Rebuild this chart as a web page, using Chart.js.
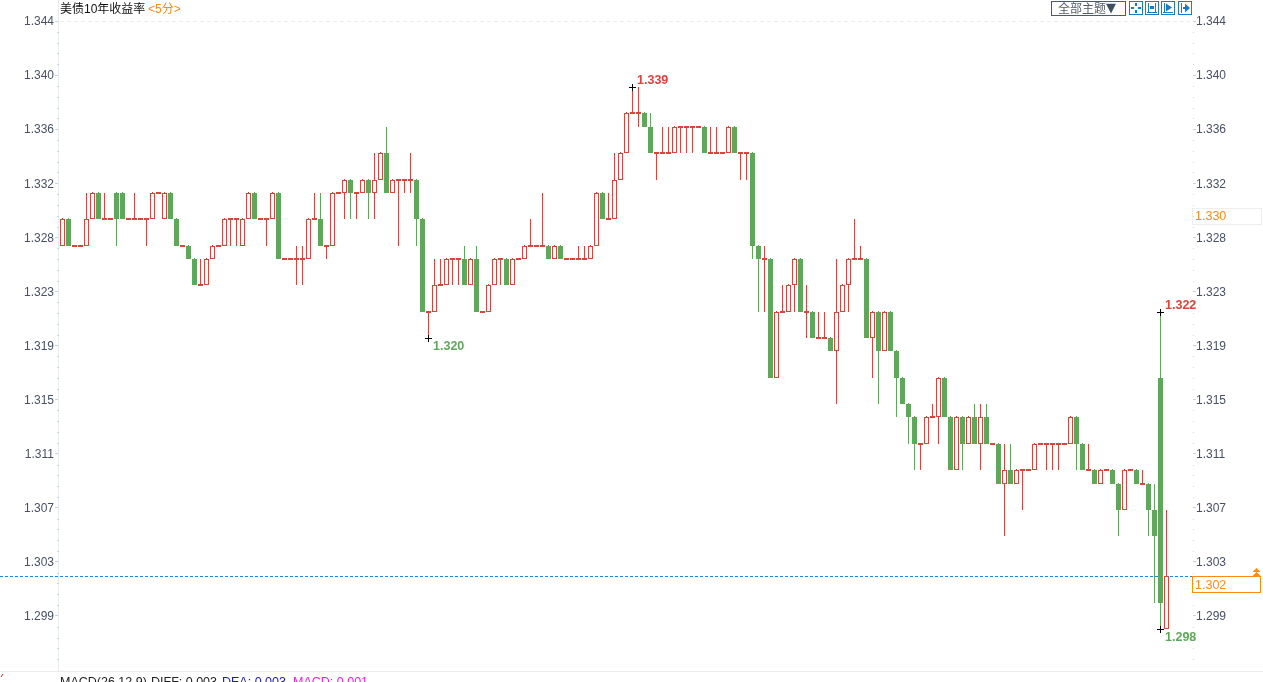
<!DOCTYPE html>
<html lang="zh">
<head>
<meta charset="utf-8">
<title>美债10年收益率</title>
<script src="https://cdn.jsdelivr.net/npm/chart.js@4/dist/chart.umd.js"></script>
<style>html,body{margin:0;padding:0;background:#fff;overflow:hidden}canvas{display:block}</style>
</head>
<body>
<canvas id="c" width="1263" height="682"></canvas>
<script>
const opens = [
1.327,1.329,1.327,1.327,1.327,1.329,1.331,1.329,1.329,1.331,1.331,1.329,1.329,1.329,1.329,1.329,1.331,1.329,1.331,1.329,
1.327,1.327,1.326,1.324,1.324,1.326,1.327,1.327,1.329,1.329,1.327,1.329,1.331,1.329,1.329,1.329,1.331,1.326,1.326,1.326,
1.326,1.326,1.329,1.329,1.327,1.327,1.331,1.331,1.332,1.331,1.331,1.332,1.331,1.332,1.334,1.331,1.332,1.332,1.332,1.332,
1.329,1.322,1.322,1.324,1.324,1.326,1.326,1.326,1.324,1.326,1.322,1.322,1.324,1.326,1.326,1.324,1.326,1.326,1.327,1.327,
1.327,1.327,1.326,1.327,1.326,1.326,1.326,1.326,1.326,1.327,1.331,1.329,1.329,1.332,1.334,1.337,1.337,1.337,1.336,1.334,
1.334,1.334,1.334,1.336,1.336,1.336,1.336,1.336,1.334,1.334,1.334,1.334,1.336,1.334,1.334,1.334,1.327,1.326,1.326,1.317,
1.322,1.322,1.324,1.326,1.322,1.322,1.320,1.320,1.320,1.319,1.322,1.324,1.326,1.326,1.326,1.320,1.322,1.319,1.322,1.319,
1.317,1.315,1.314,1.312,1.312,1.314,1.314,1.317,1.314,1.310,1.314,1.312,1.314,1.312,1.314,1.312,1.312,1.309,1.310,1.309,
1.310,1.310,1.310,1.312,1.312,1.312,1.312,1.312,1.312,1.314,1.312,1.310,1.310,1.309,1.310,1.310,1.309,1.307,1.310,1.310,
1.309,1.309,1.307,1.317,1.298];
const closes = [
1.329,1.327,1.327,1.327,1.329,1.331,1.329,1.329,1.329,1.329,1.329,1.329,1.329,1.329,1.329,1.331,1.331,1.331,1.329,1.327,
1.327,1.326,1.324,1.324,1.326,1.327,1.327,1.329,1.329,1.329,1.329,1.331,1.329,1.329,1.329,1.331,1.326,1.326,1.326,1.326,
1.326,1.329,1.329,1.327,1.327,1.331,1.331,1.332,1.331,1.331,1.332,1.331,1.332,1.334,1.331,1.332,1.332,1.332,1.332,1.329,
1.322,1.322,1.324,1.324,1.326,1.326,1.326,1.324,1.326,1.322,1.322,1.324,1.326,1.326,1.324,1.326,1.326,1.327,1.327,1.327,
1.327,1.326,1.327,1.326,1.326,1.326,1.326,1.326,1.327,1.331,1.329,1.329,1.332,1.334,1.337,1.337,1.337,1.336,1.334,1.334,
1.334,1.334,1.336,1.336,1.336,1.336,1.336,1.334,1.334,1.334,1.334,1.336,1.334,1.334,1.334,1.327,1.326,1.326,1.317,1.322,
1.322,1.324,1.326,1.322,1.322,1.320,1.320,1.320,1.319,1.322,1.324,1.326,1.326,1.326,1.320,1.322,1.319,1.322,1.319,1.317,
1.315,1.314,1.312,1.312,1.314,1.314,1.317,1.314,1.310,1.314,1.312,1.314,1.312,1.314,1.312,1.312,1.309,1.310,1.309,1.310,
1.310,1.310,1.312,1.312,1.312,1.312,1.312,1.312,1.314,1.312,1.310,1.310,1.309,1.310,1.310,1.309,1.307,1.310,1.310,1.309,
1.309,1.307,1.305,1.300,1.302];
const highs = [
1.329,1.329,1.327,1.327,1.331,1.331,1.331,1.331,1.329,1.331,1.331,1.329,1.331,1.329,1.329,1.331,1.331,1.331,1.331,1.329,
1.327,1.327,1.326,1.326,1.326,1.327,1.327,1.329,1.329,1.329,1.329,1.331,1.331,1.329,1.329,1.331,1.331,1.326,1.326,1.327,
1.327,1.329,1.331,1.331,1.327,1.331,1.331,1.332,1.332,1.331,1.332,1.332,1.334,1.334,1.336,1.332,1.332,1.332,1.334,1.332,
1.329,1.322,1.326,1.326,1.326,1.326,1.326,1.327,1.326,1.327,1.322,1.324,1.326,1.326,1.326,1.326,1.326,1.327,1.329,1.327,
1.331,1.327,1.327,1.327,1.326,1.326,1.327,1.327,1.327,1.331,1.331,1.331,1.334,1.334,1.337,1.339,1.339,1.337,1.337,1.334,
1.336,1.336,1.336,1.336,1.336,1.336,1.336,1.336,1.336,1.336,1.334,1.336,1.336,1.334,1.334,1.334,1.327,1.327,1.326,1.322,
1.324,1.324,1.326,1.326,1.324,1.322,1.322,1.322,1.320,1.326,1.324,1.326,1.329,1.327,1.326,1.322,1.322,1.322,1.322,1.319,
1.317,1.315,1.314,1.312,1.314,1.315,1.317,1.317,1.314,1.314,1.314,1.314,1.315,1.315,1.315,1.312,1.312,1.312,1.312,1.310,
1.310,1.310,1.312,1.312,1.312,1.312,1.312,1.312,1.314,1.314,1.312,1.312,1.310,1.310,1.310,1.310,1.309,1.310,1.310,1.310,
1.310,1.309,1.309,1.322,1.307];
const lows = [
1.327,1.327,1.327,1.327,1.327,1.329,1.329,1.329,1.329,1.327,1.329,1.329,1.329,1.329,1.327,1.329,1.331,1.329,1.329,1.327,
1.327,1.326,1.324,1.324,1.324,1.326,1.327,1.327,1.327,1.327,1.327,1.329,1.329,1.329,1.327,1.329,1.326,1.326,1.326,1.324,
1.324,1.326,1.329,1.327,1.326,1.327,1.331,1.329,1.329,1.329,1.331,1.329,1.329,1.332,1.331,1.331,1.327,1.331,1.331,1.327,
1.322,1.320,1.322,1.324,1.324,1.324,1.324,1.324,1.324,1.322,1.322,1.322,1.324,1.324,1.324,1.324,1.326,1.326,1.327,1.327,
1.327,1.326,1.326,1.326,1.326,1.326,1.326,1.326,1.326,1.327,1.329,1.329,1.329,1.332,1.334,1.337,1.336,1.336,1.334,1.332,
1.334,1.334,1.334,1.334,1.334,1.334,1.336,1.334,1.334,1.334,1.334,1.334,1.334,1.332,1.332,1.326,1.322,1.322,1.317,1.317,
1.322,1.322,1.322,1.322,1.320,1.320,1.320,1.320,1.319,1.315,1.322,1.322,1.326,1.326,1.320,1.317,1.315,1.319,1.319,1.314,
1.315,1.312,1.310,1.310,1.312,1.314,1.312,1.314,1.310,1.310,1.310,1.312,1.312,1.310,1.312,1.312,1.309,1.305,1.309,1.309,
1.307,1.310,1.310,1.312,1.310,1.310,1.310,1.312,1.312,1.310,1.310,1.310,1.309,1.309,1.310,1.309,1.305,1.307,1.310,1.309,
1.309,1.305,1.300,1.298,1.298];

const tickValues = [1.34399,1.33990,1.33581,1.33172,1.32763,1.32353,1.31944,1.31535,1.31126,1.30717,1.30308,1.29899];
const tickLabels = ['1.344','1.340','1.336','1.332','1.328','1.323','1.319','1.315','1.311','1.307','1.303','1.299'];

const markIndex  = [95, 61, 183, 183];
const markValue  = [1.339, 1.320, 1.322, 1.298];
const markLabels = ['1.339', '1.320', '1.322', '1.298'];
const markKinds  = ['up', 'down', 'up', 'down'];

const lastPrice = 1.302;
const refValue = 1.3293;
const refLabel = '1.330';
const titleText = '美债10年收益率';
const periodText = '<5分>';
const themeText = '全部主题';
const themeArrow = '▼';
const macdParts = ['MACD(26,12,9)', 'DIFF: 0.003', 'DEA: 0.003', 'MACD: 0.001'];

const RED = '#dd423c', GREEN = '#5fa75a', ORANGE = '#ff8a14', BLUE = '#1a7cc4';
const FONT = '"Liberation Sans","Noto Sans CJK SC",sans-serif';
const isUp = (i) => closes[i] >= opens[i];
const indices = opens.map((_, i) => i);

const crisp = {
  id: 'crisp',
  afterDatasetsUpdate(chart) {
    const y = chart.scales.y;
    const bodies = chart.getDatasetMeta(0).data;
    const wicks = chart.getDatasetMeta(1).data;
    indices.forEach((i) => {
      const b = bodies[i], w = wicks[i];
      const top = Math.round(y.getPixelForValue(Math.max(opens[i], closes[i])));
      const bot = Math.round(y.getPixelForValue(Math.min(opens[i], closes[i])));
      b.x = Math.floor(b.x) + 0.5;
      w.x = b.x;
      const flat = opens[i] === closes[i];
      if (flat) { b.y = top - 1; b.base = top + 1; }
      else { b.y = top; b.base = bot; }
      let hi = Math.round(y.getPixelForValue(highs[i]));
      const lo = Math.round(y.getPixelForValue(lows[i]));
      if (!flat) hi = Math.min(hi, top - 1);
      w.y = hi; w.base = lo;
    });
  }
};

const under = {
  id: 'under',
  beforeDatasetsDraw(chart) {
    const ctx = chart.ctx, y = chart.scales.y;
    ctx.save();
    ctx.fillStyle = '#e6ebef';
    ctx.fillRect(58, 0, 1, 671);
    ctx.fillStyle = '#ececec';
    ctx.fillRect(0, 671, 1263, 1);
    ctx.strokeStyle = '#ececec'; ctx.lineWidth = 1; ctx.setLineDash([4, 3]);
    const t = Math.round(y.getPixelForValue(tickValues[0])) + 0.5;
    ctx.beginPath(); ctx.moveTo(60, t); ctx.lineTo(1190, t); ctx.stroke();
    ctx.setLineDash([]);
    ctx.fillStyle = '#ccd8e0';
    for (let j = 0; j < tickValues.length; j++) {
      const p0 = y.getPixelForValue(tickValues[j]);
      for (let m = 1; m <= 4; m++) {
        const py = Math.round(p0 + m * 10.82);
        if (py > 668) break;
        ctx.fillRect(57, py, 2, 1);
        ctx.fillRect(1193, py, 1, 1);
      }
    }
    const lp = Math.round(y.getPixelForValue(lastPrice)) + 0.5;
    ctx.strokeStyle = '#1d86e0'; ctx.setLineDash([3, 2]);
    ctx.beginPath(); ctx.moveTo(0, lp); ctx.lineTo(1192, lp); ctx.stroke();
    ctx.setLineDash([]);
    ctx.restore();
  }
};

const over = {
  id: 'over',
  afterDraw(chart) {
    const ctx = chart.ctx, y = chart.scales.y, x = chart.scales.x;
    ctx.save();
    ctx.textBaseline = 'middle'; ctx.textAlign = 'left';

    markIndex.forEach((idx, k) => {
      const px = Math.floor(x.getPixelForValue(idx));
      const py = Math.round(y.getPixelForValue(markValue[k]));
      ctx.fillStyle = '#000';
      ctx.fillRect(px - 3, py, 7, 1);
      ctx.fillRect(px, py - 3, 1, 7);
      const up = markKinds[k] === 'up';
      ctx.fillStyle = up ? RED : GREEN;
      ctx.font = 'bold 12.5px ' + FONT;
      ctx.fillText(markLabels[k], px + 5, py + (up ? -6 : 9));
    });

    ctx.font = '12px ' + FONT;
    ctx.fillStyle = '#111';
    ctx.fillText(titleText, 60, 10);
    ctx.fillStyle = ORANGE;
    ctx.fillText(periodText, 148, 10);

    const ry = Math.round(y.getPixelForValue(refValue));
    ctx.strokeStyle = '#eeeeee'; ctx.lineWidth = 1;
    ctx.strokeRect(1192.5, ry - 6.5, 69, 16);
    ctx.fillStyle = ORANGE; ctx.font = '12.5px ' + FONT;
    ctx.fillText(refLabel, 1195, ry + 2);

    const ly = Math.round(y.getPixelForValue(lastPrice));
    ctx.strokeStyle = ORANGE;
    ctx.strokeRect(1192.5, ly + 0.5, 68, 16);
    ctx.fillStyle = ORANGE;
    ctx.fillText(lastPrice.toFixed(3), 1195, ly + 10);
    [ly - 8, ly - 4].forEach((t) => {
      ctx.beginPath(); ctx.moveTo(1256.5, t); ctx.lineTo(1260.5, t + 4); ctx.lineTo(1252.5, t + 4); ctx.closePath(); ctx.fill();
    });

    ctx.strokeStyle = '#4a5a70';
    ctx.strokeRect(1051.5, 1.5, 74, 14);
    ctx.fillStyle = '#555e6c'; ctx.font = '12px ' + FONT;
    ctx.fillText(themeText, 1058, 10);
    ctx.fillStyle = '#3d5066'; ctx.font = '13px "DejaVu Sans",' + FONT;
    ctx.fillText(themeArrow, 1106, 9);

    ctx.strokeStyle = BLUE; ctx.fillStyle = BLUE;
    [1129, 1145, 1161, 1178].forEach((ix, n) => {
      ctx.strokeRect(ix + 0.5, 1.5, 13, 13);
      if (n === 0) {
        ctx.fillRect(ix + 6, 3, 2, 3); ctx.fillRect(ix + 6, 10, 2, 3);
        ctx.fillRect(ix + 2, 7, 3, 2); ctx.fillRect(ix + 9, 7, 3, 2);
      } else if (n === 1) {
        ctx.fillRect(ix + 3, 3, 1, 9); ctx.fillRect(ix + 10, 3, 1, 9); ctx.fillRect(ix + 5, 6, 4, 3);
        ctx.fillRect(ix + 2, 12, 10, 1);
      } else if (n === 2) {
        ctx.fillRect(ix + 3, 3, 1, 9); ctx.fillRect(ix + 2, 12, 10, 1);
        ctx.beginPath(); ctx.moveTo(ix + 5, 3.5); ctx.lineTo(ix + 11, 7.5); ctx.lineTo(ix + 5, 11.5); ctx.closePath(); ctx.fill();
      } else {
        ctx.fillRect(ix + 3, 3, 1, 10); ctx.fillRect(ix + 5, 7, 3, 2);
        ctx.beginPath(); ctx.moveTo(ix + 7, 3.5); ctx.lineTo(ix + 12, 8); ctx.lineTo(ix + 7, 12.5); ctx.closePath(); ctx.fill();
      }
    });

    ctx.font = '12.5px ' + FONT; ctx.textBaseline = 'alphabetic';
    const macdX = [60, 151, 222, 293], macdC = ['#222', '#222', '#1a1ac0', '#f01ee0'];
    macdParts.forEach((s, k) => { ctx.fillStyle = macdC[k]; ctx.fillText(s, macdX[k], 686); });

    ctx.strokeStyle = '#e02020';
    ctx.beginPath(); ctx.moveTo(1, 677); ctx.lineTo(3, 674); ctx.stroke();
    ctx.restore();
  }
};

const axisLabel = (v, i) => tickLabels[i];
const setTicks = (s) => { s.ticks = tickValues.map((v) => ({ value: v })); };
const baseY = {
  type: 'linear', min: 1.294824, max: 1.343992,
  border: { display: false },
  grid: { drawOnChartArea: false, drawTicks: true, tickLength: 3, tickColor: '#c5d3dc' },
  afterBuildTicks: setTicks,
};
const tickFont = { family: FONT, size: 12 };

new Chart(document.getElementById('c'), {
  type: 'bar',
  data: {
    datasets: [
      {
        label: 'body',
        data: indices.map((i) => ({ x: i, y: [Math.min(opens[i], closes[i]), Math.max(opens[i], closes[i])] })),
        barThickness: 5, grouped: false, inflateAmount: 0, borderSkipped: false, borderWidth: 1, order: 1,
        backgroundColor: indices.map((i) => opens[i] === closes[i] ? RED : (isUp(i) ? '#ffffff' : GREEN)),
        borderColor: indices.map((i) => isUp(i) ? RED : GREEN),
      },
      {
        label: 'wick',
        data: indices.map((i) => ({ x: i, y: [lows[i], highs[i]] })),
        barThickness: 1, grouped: false, inflateAmount: 0, borderSkipped: false, borderWidth: 0, order: 2,
        backgroundColor: indices.map((i) => isUp(i) ? RED : GREEN),
      },
    ],
  },
  options: {
    responsive: false, animation: false, events: [],
    layout: { padding: { top: 21, bottom: 11, left: 0, right: 0 } },
    plugins: { legend: { display: false }, tooltip: { enabled: false }, title: { display: false } },
    scales: {
      x: { type: 'linear', display: false, offset: false, grid: { display: false, offset: false }, min: -0.75, max: 188.4167 },
      y: {
        ...baseY, position: 'left',
        afterFit: (s) => { s.width = 58; },
        ticks: { autoSkip: false, maxRotation: 0, padding: 1, labelOffset: 1, color: '#475064', font: tickFont, callback: axisLabel },
      },
      y2: {
        ...baseY, position: 'right',
        afterFit: (s) => { s.width = 70; },
        ticks: { autoSkip: false, maxRotation: 0, padding: 0, labelOffset: 1, color: '#475064', font: tickFont, callback: axisLabel },
      },
    },
  },
  plugins: [crisp, under, over],
});
</script>
</body>
</html>
